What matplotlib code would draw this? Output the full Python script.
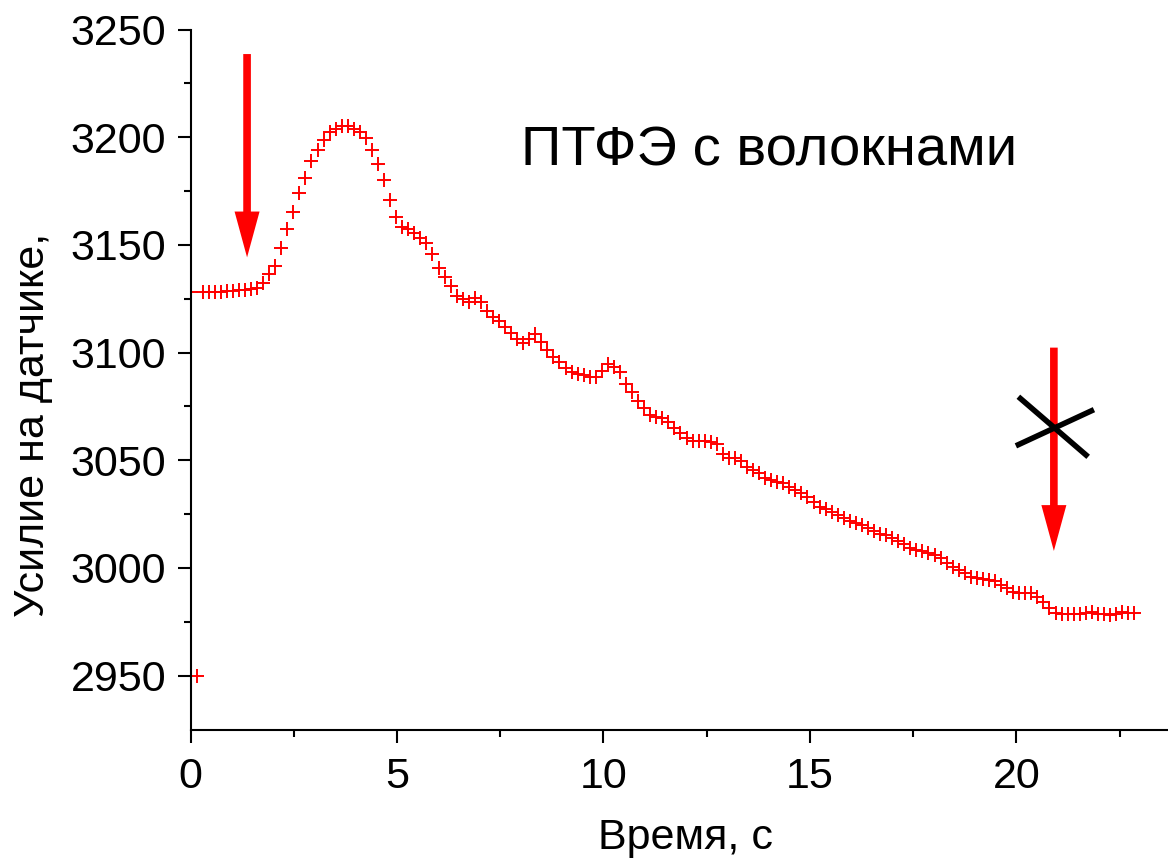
import matplotlib
matplotlib.use("Agg")
import matplotlib.pyplot as plt
import numpy as np
from matplotlib.patches import FancyArrowPatch

plt.rcParams["font.family"] = ["Liberation Sans", "DejaVu Sans"]

# sensor force, one reading every t_step seconds
t_step = 0.1465
force = [
    3128, 2950, 3128, 3128, 3128, 3128, 3128.5, 3128.5, 3129, 3129,
    3129.3, 3130, 3132.5, 3136.5, 3140, 3148.5, 3157.5, 3165.5, 3174, 3181,
    3189, 3194, 3198.5, 3202.2, 3204, 3205, 3205, 3204, 3202.5, 3199.5,
    3194, 3187.5, 3180, 3171, 3163, 3158.5, 3157.3, 3155.7, 3153.3, 3151,
    3146, 3139.5, 3135, 3131, 3126.3, 3125, 3123.5, 3125.5, 3123.5, 3119.5,
    3116.5, 3114.5, 3112, 3109, 3106.5, 3104.5, 3106.5, 3108.5, 3105, 3101,
    3098, 3095.5, 3093, 3090.8, 3090.2, 3089.5, 3088.5, 3088.5, 3091.5, 3094.5,
    3093.5, 3090.8, 3085.5, 3081.5, 3077.5, 3074.5, 3071, 3070.3, 3069.5, 3068,
    3065, 3062.5, 3060.5, 3059, 3059, 3059, 3058.7, 3057.5, 3053, 3051,
    3051, 3049.5, 3047, 3045.7, 3044.3, 3042, 3041, 3040, 3039.3, 3037.5,
    3036, 3034.6, 3033, 3030.5, 3028.5, 3027.2, 3026, 3024.5, 3023, 3022,
    3020.8, 3020, 3018.5, 3017, 3016, 3015.2, 3014, 3012.7, 3011.3, 3009.3,
    3008.5, 3007.9, 3007, 3005.8, 3004.6, 3002.5, 3000.5, 2999, 2997.5, 2995.8,
    2995.2, 2994.8, 2994.5, 2994, 2992.3, 2990.5, 2989, 2988.5, 2988.5, 2988.3,
    2986.5, 2984, 2981.3, 2979.3, 2978.7, 2978.5, 2978.5, 2978.7, 2979.3, 2979.5,
    2978.8, 2978.5, 2978.3, 2978.7, 2979.5, 2979, 2979,
]
time = np.arange(len(force)) * t_step

x_ticks = [0, 5, 10, 15, 20]
y_ticks = [2950, 3000, 3050, 3100, 3150, 3200, 3250]

# arrows (x, top, tip) and the cross mark
arrows = [(1.37, 3238.6, 3144.2), (20.91, 3102.3, 3007.9)]
cross = [((20.05, 21.74), (3079.5, 3051.6)), ((19.99, 21.88), (3056.7, 3073.5))]

fig = plt.figure(figsize=(11.68, 8.63), dpi=100)
ax = fig.add_axes([190.5 / 1168, 1 - 729.5 / 863, (1168 - 190.5) / 1168, (729.5 - 29.5) / 863])

ax.plot(time, force, linestyle="none", marker="+", color="red",
        markersize=9.5, markeredgewidth=1.4)

for x, top, tip in arrows:
    arr = FancyArrowPatch((x, top), (x, tip), arrowstyle="simple,head_length=3.3,head_width=1.8,tail_width=0.55",
                          mutation_scale=10, color="red", lw=0, shrinkA=0, shrinkB=0)
    ax.add_patch(arr)

for xs, ys in cross:
    ax.plot(xs, ys, color="black", lw=4, solid_capstyle="butt")

ax.text(8.0, 3187, "ПТФЭ с волокнами", fontsize=40.5, ha="left", va="baseline")

ax.set_xlim(0, (1168 - 190.5) / 41.29)
ax.set_ylim(2925, 3250)
ax.set_xticks(x_ticks)
ax.set_yticks(y_ticks)
ax.set_xticks([2.5, 7.5, 12.5, 17.5, 22.5], minor=True)
ax.set_yticks([2975, 3025, 3075, 3125, 3175, 3225], minor=True)

for side in ["top", "right"]:
    ax.spines[side].set_visible(False)
for side in ["left", "bottom"]:
    ax.spines[side].set_linewidth(1.5)

ax.tick_params(which="major", direction="out", length=9.5, width=1.5, labelsize=31, pad=8)
ax.tick_params(axis="x", which="major", pad=10)
ax.tick_params(which="minor", direction="out", length=5, width=1.5)

ax.set_xlabel("Время, с", fontsize=31)
ax.set_ylabel("Усилие на датчике,", fontsize=31)
ax.xaxis.set_label_coords((686 - 190.5) / 977.5, -(838 - 729.5) / 700, transform=ax.transAxes)
ax.xaxis.label.set_va("center")
ax.yaxis.set_label_coords(-(190.5 - 33) / 977.5, (729.5 - 425) / 700)
ax.yaxis.label.set_va("center")

fig.savefig("out.png", dpi=100)
